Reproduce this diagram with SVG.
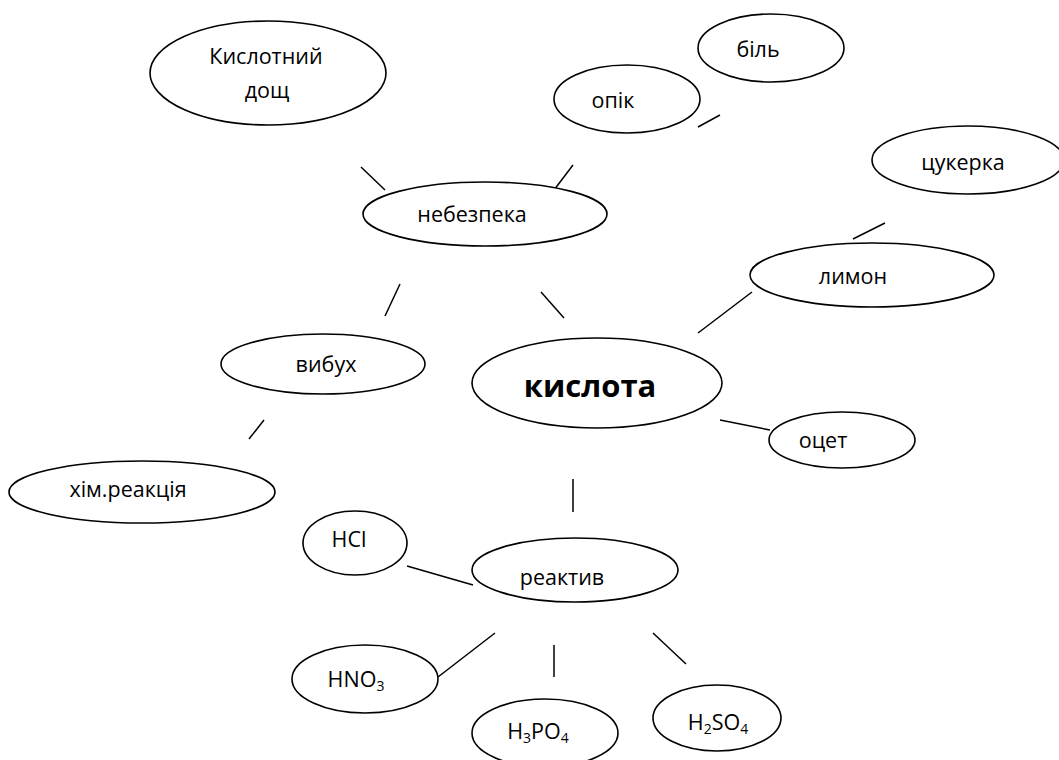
<svg xmlns="http://www.w3.org/2000/svg" width="1059" height="760" viewBox="0 0 1059 760">
<style>
ellipse{fill:#fff;stroke:#000;stroke-width:1.6}
line{stroke:#000;stroke-width:1.5}
text{font-family:"Open Sans","Noto Sans",sans-serif;font-size:21.5px;fill:#000;text-anchor:middle}
.big{font-size:31px;font-weight:bold}
.sub{font-size:14px}
</style>
<rect width="1059" height="760" fill="#fff"/>
<g id="connectors">
<line x1="361" y1="167" x2="385" y2="190"/>
<line x1="554" y1="190" x2="573" y2="165"/>
<line x1="698" y1="127" x2="720" y2="115"/>
<line x1="853" y1="239" x2="885" y2="223"/>
<line x1="698" y1="333" x2="752" y2="292"/>
<line x1="541" y1="292" x2="564" y2="318"/>
<line x1="400" y1="284" x2="385" y2="316"/>
<line x1="264" y1="420" x2="249" y2="439"/>
<line x1="720" y1="420" x2="770" y2="430"/>
<line x1="573" y1="479" x2="573" y2="512"/>
<line x1="407" y1="566" x2="473" y2="585"/>
<line x1="438" y1="677" x2="495" y2="633"/>
<line x1="554" y1="645" x2="554" y2="677"/>
<line x1="653" y1="633" x2="686" y2="664"/>
</g>
<g id="kyslotnyi-doshch"><ellipse cx="268" cy="73" rx="118" ry="52"/><text x="266" y="64">Кислотний</text><text x="267" y="98">дощ</text></g>
<g id="bil"><ellipse cx="771" cy="48" rx="73" ry="34"/><text x="758" y="57">біль</text></g>
<g id="opik"><ellipse cx="627" cy="99" rx="73" ry="34"/><text x="613" y="108">опік</text></g>
<g id="tsukerka"><ellipse cx="968" cy="160" rx="96" ry="34"/><text x="963" y="170">цукерка</text></g>
<g id="nebezpeka"><ellipse cx="485" cy="214" rx="122" ry="32"/><text x="472" y="222">небезпека</text></g>
<g id="lymon"><ellipse cx="872" cy="275" rx="122" ry="32"/><text x="853" y="284">лимон</text></g>
<g id="vybukh"><ellipse cx="323" cy="364" rx="102" ry="30"/><text x="326" y="372">вибух</text></g>
<g id="kyslota"><ellipse cx="597" cy="383" rx="125" ry="45"/><text class="big" x="590" y="397">кислота</text></g>
<g id="otset"><ellipse cx="842" cy="440" rx="73" ry="28"/><text x="823" y="448">оцет</text></g>
<g id="khim-reaktsiia"><ellipse cx="142" cy="492" rx="133" ry="31"/><text x="128" y="497">хім.реакція</text></g>
<g id="hcl"><ellipse cx="355" cy="543" rx="52" ry="32"/><text x="349" y="547">HCl</text></g>
<g id="reaktyv"><ellipse cx="575" cy="570" rx="103" ry="32"/><text x="562" y="585">реактив</text></g>
<g id="hno3"><ellipse cx="365" cy="679" rx="73" ry="34"/><text x="356" y="687">HNO<tspan class="sub" dy="4">3</tspan></text></g>
<g id="h3po4"><ellipse cx="545" cy="733" rx="73" ry="34"/><text x="538" y="739">H<tspan class="sub" dy="4">3</tspan><tspan dy="-4">PO</tspan><tspan class="sub" dy="4">4</tspan></text></g>
<g id="h2so4"><ellipse cx="717" cy="718" rx="64" ry="33"/><text x="718" y="730">H<tspan class="sub" dy="4">2</tspan><tspan dy="-4">SO</tspan><tspan class="sub" dy="4">4</tspan></text></g>
</svg>
